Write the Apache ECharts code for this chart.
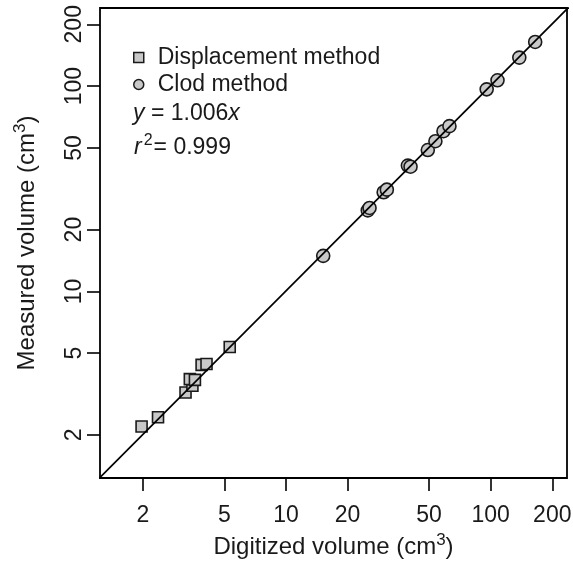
<!DOCTYPE html>
<html>
<head>
<meta charset="utf-8">
<script src="https://cdn.jsdelivr.net/npm/echarts@6/dist/echarts.min.js"></script>
<style>
  html, body { margin: 0; padding: 0; background: #fff; }
  #chart { width: 573px; height: 566px; }
</style>
</head>
<body>
<div id="chart"></div>
<script>
// tick marks (log scale, both axes)
const xTicks = [2, 5, 10, 20, 50, 100, 200];
const yTicks = [2, 5, 10, 20, 50, 100, 200];
const axisMin = 1.234;
const xAxisMax = 236;
const yAxisMax = 240;

// displacement method (squares)
const displacementX = [1.97, 2.37, 3.23, 3.49, 3.39, 3.59, 3.87, 4.09, 5.31];
const displacementY = [2.20, 2.44, 3.22, 3.47, 3.74, 3.71, 4.39, 4.43, 5.36];

// clod method (circles)
const clodX = [15.2, 25.1, 25.6, 30.0, 31.1, 39.4, 40.6, 49.3, 53.7, 58.8, 62.9, 95.6, 108, 138, 165];
const clodY = [14.9, 24.8, 25.5, 30.4, 31.3, 41.0, 40.5, 48.8, 53.9, 60.3, 63.8, 96.4, 106.7, 137.6, 164];

// fit
const fitSlope = 1.006;
const fitR2 = 0.999;
const fitRange = [1, 300];

const FONT = '"Liberation Sans", Arial, Helvetica, sans-serif';
const TXT = '#1a1a1a';
const lg = v => Math.log10(v);
const fmt = v => String(Math.round(Math.pow(10, v)));

const chart = echarts.init(document.getElementById('chart'));

// superscript via rich text
const supRich = {
  a: { fontSize: 24, fontFamily: FONT, color: TXT, lineHeight: 30 },
  s: { fontSize: 17, fontFamily: FONT, color: TXT, lineHeight: 17, verticalAlign: 'top' }
};

const option = {
  animation: false,
  backgroundColor: '#fff',
  grid: {
    left: 100, right: 6, top: 8, bottom: 88,
    show: true, borderColor: '#000', borderWidth: 1.8,
    containLabel: false, outerBoundsMode: 'none'
  },
  legend: {
    orient: 'vertical',
    left: 128, top: 41,
    itemWidth: 10, itemHeight: 10,
    itemGap: 4,
    selectedMode: false,
    textStyle: { fontSize: 23, fontFamily: FONT, color: TXT, lineHeight: 23, padding: [0, 0, 0, 9] },
    data: [
      { name: 'Displacement method', icon: 'rect', itemStyle: { color: '#c8c8c8', borderColor: '#1a1a1a', borderWidth: 1.5 } },
      { name: 'Clod method', icon: 'circle', itemStyle: { color: '#c8c8c8', borderColor: '#1a1a1a', borderWidth: 1.5 } }
    ]
  },
  xAxis: {
    type: 'value',
    min: lg(axisMin), max: lg(xAxisMax),
    name: '{a|Digitized volume (cm}{s|3}{a|)}',
    nameLocation: 'middle', nameGap: 52,
    nameTextStyle: { rich: supRich },
    axisLine: { show: false },
    splitLine: { show: false },
    axisTick: { show: true, inside: false, length: 13, customValues: xTicks.map(lg), lineStyle: { color: '#000', width: 1.6 } },
    axisLabel: { customValues: xTicks.map(lg), formatter: fmt, margin: 26, fontSize: 23, fontFamily: FONT, color: TXT }
  },
  yAxis: {
    type: 'value',
    min: lg(axisMin), max: lg(yAxisMax),
    name: '{a|Measured volume (cm}{s|3}{a|)}',
    nameLocation: 'middle', nameGap: 58,
    nameTextStyle: { rich: supRich },
    axisLine: { show: false },
    splitLine: { show: false },
    axisTick: { show: true, inside: false, length: 13, customValues: yTicks.map(lg), lineStyle: { color: '#000', width: 1.6 } },
    axisLabel: { customValues: yTicks.map(lg), formatter: fmt, rotate: 90, margin: 14, fontSize: 23, fontFamily: FONT, color: TXT }
  },
  graphic: [
    {
      type: 'text', left: 133, top: 102,
      style: {
        text: '{i|y}{a| = ' + fitSlope.toFixed(3) + '}{i|x}',
        font: '23px ' + FONT, fill: TXT,
        rich: {
          i: { fontStyle: 'italic', fontSize: 23, fontFamily: FONT, color: TXT },
          a: { fontSize: 23, fontFamily: FONT, color: TXT }
        }
      }
    },
    {
      type: 'text', left: 134, top: 133,
      style: {
        text: '{i|r}{s|2}{a|= ' + fitR2.toFixed(3) + '}',
        font: '23px ' + FONT, fill: TXT,
        rich: {
          i: { fontStyle: 'italic', fontSize: 23, fontFamily: FONT, color: TXT, lineHeight: 29 },
          a: { fontSize: 23, fontFamily: FONT, color: TXT, lineHeight: 29 },
          s: { fontSize: 16, fontFamily: FONT, color: TXT, lineHeight: 16, verticalAlign: 'top', padding: [0, 1, 0, 2] }
        }
      }
    }
  ],
  series: [
    {
      name: 'Displacement method',
      type: 'scatter',
      symbol: 'rect',
      symbolSize: 11,
      itemStyle: { color: '#c8c8c8', borderColor: '#1a1a1a', borderWidth: 1.6, opacity: 1 },
      data: displacementX.map((x, i) => [lg(x), lg(displacementY[i])]),
      z: 2
    },
    {
      name: 'Clod method',
      type: 'scatter',
      symbol: 'circle',
      symbolSize: 13,
      itemStyle: { color: '#c8c8c8', borderColor: '#1a1a1a', borderWidth: 1.6, opacity: 1 },
      data: clodX.map((x, i) => [lg(x), lg(clodY[i])]),
      z: 2
    },
    {
      name: 'fit',
      type: 'line',
      showSymbol: false,
      clip: true,
      lineStyle: { color: '#000', width: 1.7 },
      data: fitRange.map(x => [lg(x), lg(x * fitSlope)]),
      z: 3
    }
  ]
};

chart.setOption(option);
</script>
</body>
</html>
